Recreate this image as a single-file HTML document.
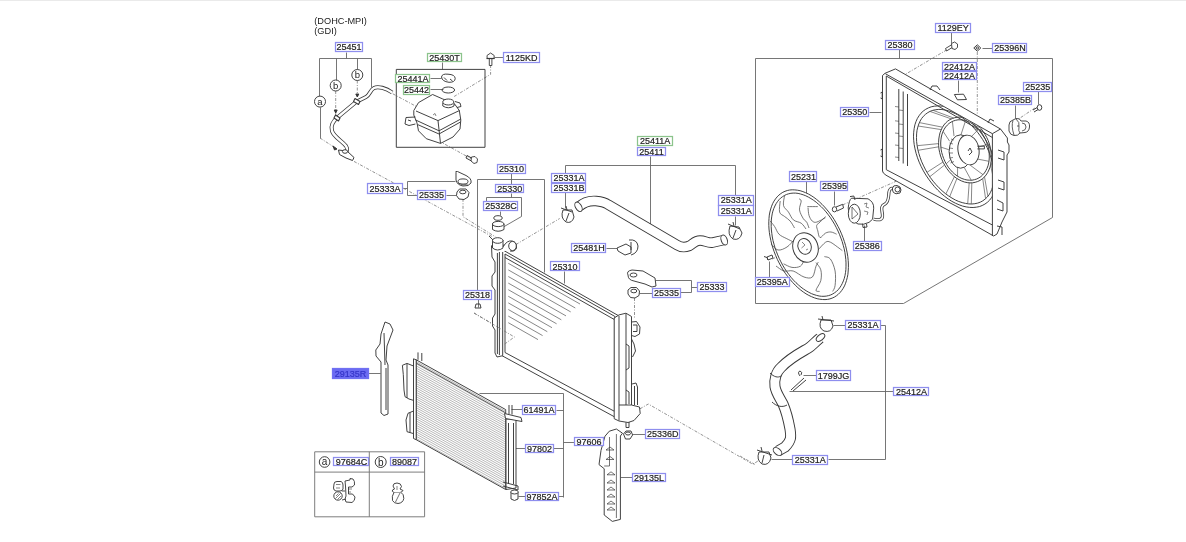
<!DOCTYPE html>
<html><head><meta charset="utf-8"><style>
html,body{margin:0;padding:0;background:#fff;width:1186px;height:542px;overflow:hidden}
svg{display:block;filter:blur(0.3px)}
</style></head><body>
<svg width="1186" height="542" viewBox="0 0 1186 542">
<rect x="0" y="0" width="1186" height="1" fill="#eaeaea"/>
<g stroke="#666" stroke-width="0.9" fill="none">
<polyline points="346.5,52.5 346.5,58.5"/>
<polyline points="319.5,58.5 371.5,58.5"/>
<polyline points="319.5,58.5 319.5,96.5"/>
<polyline points="336.5,58.5 336.5,80.5"/>
<polyline points="357.5,58.5 357.5,69.5"/>
<polyline points="371.5,58.5 371.5,87.5"/>
<polyline points="320.5,107.5 320.5,138.5"/>
<polyline points="442.5,62.5 442.5,69.5"/>
<polyline points="430.5,78.5 441.5,78.5"/>
<polyline points="430.5,89.5 443.5,89.5"/>
<polyline points="494.5,57.5 503.5,57.5"/>
<polyline points="403.5,188.5 407.5,188.5"/>
<polyline points="455.5,181.5 407.5,181.5 407.5,195.5 417.5,195.5"/>
<polyline points="446.5,195.5 457.5,195.5"/>
<polyline points="477.5,290.5 477.5,179.5 544.5,179.5 544.5,272.5"/>
<polyline points="511.5,173.5 511.5,184.5"/>
<polyline points="511.5,193.5 511.5,197.5"/>
<polyline points="486.5,201.5 486.5,197.5 521.5,197.5 521.5,216.5 502.5,227.5"/>
<polyline points="500.5,211.5 500.5,215.5"/>
<polyline points="650.5,156.5 650.5,224.5"/>
<polyline points="565.5,173.5 565.5,165.5 735.5,165.5 735.5,196.5"/>
<polyline points="565.5,192.5 565.5,208.5"/>
<polyline points="735.5,216.5 735.5,225.5"/>
<polyline points="606.5,248.5 617.5,248.5"/>
<polyline points="564.5,271.5 564.5,283.5"/>
<polyline points="478.5,299.5 478.5,307.5"/>
<polyline points="655.5,280.5 691.5,280.5 691.5,292.5 680.5,292.5"/>
<polyline points="691.5,287.5 697.5,287.5"/>
<polyline points="639.5,293.5 652.5,293.5"/>
<polyline points="951.5,32.5 951.5,43.5"/>
<polyline points="899.5,49.5 899.5,58.5"/>
<polyline points="755.5,58.5 1052.5,58.5 1052.5,217.5 903.5,303.5 755.5,303.5 755.5,58.5"/>
<polyline points="982.5,48.5 992.5,48.5"/>
<polyline points="958.5,80.5 958.5,92.5"/>
<polyline points="1038.5,91.5 1038.5,104.5"/>
<polyline points="1015.5,105.5 1015.5,118.5"/>
<polyline points="869.5,112.5 881.5,112.5"/>
<polyline points="806.5,181.5 806.5,194.5"/>
<polyline points="834.5,191.5 834.5,205.5"/>
<polyline points="864.5,225.5 864.5,241.5"/>
<polyline points="769.5,261.5 769.5,277.5"/>
<polyline points="833.5,325.5 845.5,325.5"/>
<polyline points="880.5,325.5 885.5,325.5 885.5,459.5 828.5,459.5"/>
<polyline points="771.5,459.5 792.5,459.5"/>
<polyline points="789.5,391.5 893.5,391.5"/>
<polyline points="803.5,375.5 816.5,375.5"/>
<polyline points="479.5,393.5 563.5,393.5 563.5,497.5"/>
<polyline points="556.5,410.5 563.5,410.5"/>
<polyline points="511.5,409.5 522.5,409.5"/>
<polyline points="553.5,448.5 563.5,448.5"/>
<polyline points="513.5,448.5 525.5,448.5"/>
<polyline points="558.5,496.5 563.5,496.5"/>
<polyline points="518.5,496.5 525.5,496.5"/>
<polyline points="563.5,442.5 574.5,442.5"/>
<polyline points="632.5,434.5 645.5,434.5"/>
<polyline points="620.5,477.5 632.5,477.5"/>
<polyline points="368.5,373.5 380.5,373.5"/>
</g>
<g stroke="#777" stroke-width="0.8" fill="none" stroke-dasharray="3,1.5,1,1.5">
<polyline points="320.0,138.0 337.0,149.0"/>
<polyline points="335.7,91.0 335.7,115.0"/>
<polyline points="357.3,80.5 357.3,97.0"/>
<polyline points="490.6,65.0 490.6,74.3 454.0,96.6"/>
<polyline points="392.8,93.8 434.0,116.0"/>
<polyline points="439.0,141.0 473.5,160.0"/>
<polyline points="354.0,161.4 493.0,237.0"/>
<polyline points="463.0,198.8 463.0,216.7 495.7,237.0"/>
<polyline points="516.0,244.5 559.7,218.5"/>
<polyline points="634.5,298.0 634.5,318.0"/>
<polyline points="946.7,49.9 905.9,74.0"/>
<polyline points="977.3,52.0 977.3,113.8"/>
<polyline points="1034.8,108.0 1018.0,119.4"/>
<polyline points="842.7,204.9 917.0,172.0"/>
<polyline points="772.4,259.0 796.0,247.3"/>
<polyline points="640.0,408.8 648.3,404.0 752.8,464.2 758.0,461.0"/>
<polyline points="474.0,313.0 514.6,337.0"/>
<polyline points="740.0,456.0 755.0,464.5"/>
</g>
<g stroke="#383838" stroke-width="0.95" fill="none" stroke-linejoin="round">
<!-- RADIATOR core -->
<path d="M502,249.5 L618.5,315.7 L618.5,419 L502,355.7 Z" fill="#fff"/>
<path d="M505,254 L614.8,316.4 M505,257.5 L614.8,319.8 M505,254 L505,352.5 L614.8,411.5 L614.8,316.4"/>
<g stroke="#555" stroke-width="0.7">
<path d="M508.3,263.3 L580.0,304.0 M508.3,269.9 L575.3,308.0 M508.3,276.5 L570.7,311.9 M508.3,283.1 L566.0,315.9 M508.3,289.7 L561.3,319.8 M508.3,296.3 L556.6,323.8 M508.3,302.9 L552.0,327.7 M508.3,309.5 L547.3,331.7 M508.3,316.1 L542.6,335.6 M508.3,322.7 L538.0,339.6"/>
</g>
<!-- left tank -->
<path d="M502.7,252 L502.7,355.7 L497,357 L495,353 L495,330 L492.5,326 L492.5,318 L495,314 L495,290 L492,286 L492,276 L495,272 L495,262 L492,257 L491.5,246 L494,243 L502,244 L508,249" fill="#fff"/>
<path d="M497.4,253 L497.4,354 M499.4,252 L499.4,355"/>
<!-- filler neck -->
<path d="M492.5,240 L492.5,248 Q497.5,252 503,248 L503,240" fill="#fff"/>
<ellipse cx="497.7" cy="240.5" rx="5.2" ry="2.8" fill="#fff"/>
<path d="M489,236 L493,240"/>
<!-- outlet pipe -->
<path d="M503,247 Q507,240 512,241 Q517,242 516.5,248 Q515,252 510,251" fill="#fff"/>
<ellipse cx="512.5" cy="246" rx="3.8" ry="4.6" fill="#fff"/>
<!-- right tank -->
<path d="M614.2,318 L619,314.9 L626,313.2 L631.5,316.5 L631.5,405 L639.5,407 L640.2,413.5 L634,420.5 L628,422.5 L619,421 L614.2,418.7 Z" fill="#fff"/>
<path d="M619,316 L619,420.5 M626,314 L626,405 M619,405 L631.5,405"/>
<path d="M631.5,322 L636.5,321.5 L640,327 L639.5,334 L635,336.5 L631.5,335.5 M633,325 L637,325 L637,331.5 L633,331.5 M631.5,339 L634,344 L635.5,351 L632.5,357 M626,344 L629,346 L629,368 L626,370"/>
<path d="M632,384 L636,383 L637.5,387 L637.5,405 M634.5,386 L634.5,405 M626,390 L629,392 L629,404"/>
<path d="M626,422.5 L626,427.5 L629,427.5 L629,422"/>
<!-- cap 25330 -->
<path d="M492.5,224 L492.5,229.5 Q498,233 504,229.5 L504,224" fill="#fff"/>
<ellipse cx="498.2" cy="224" rx="5.8" ry="2.6" fill="#fff"/>
<!-- o-ring 25328C -->
<ellipse cx="498" cy="218" rx="4.2" ry="2.3"/>
<!-- 25318 small part -->
<path d="M474,313 L514.4,337 L504.7,344" stroke="#777" stroke-width="0.8" stroke-dasharray="3,1.5,1,1.5"/>
<path d="M476,304 L480,304 L481,308 L475,308 Z"/>
</g>
<g stroke="#383838" stroke-width="0.95" fill="none" stroke-linejoin="round">
<!-- CONDENSER -->
<path d="M416.2,359.8 L505.7,409.6 L505.7,489.5 L416.2,439.7 Z" fill="#fff"/>
<g stroke="#8a8a8a" stroke-width="0.6">
<path d="M416.2,361.5 L505.7,411.3 M416.2,363.7 L505.7,413.5 M416.2,365.9 L505.7,415.7 M416.2,368.1 L505.7,417.9 M416.2,370.3 L505.7,420.1 M416.2,372.5 L505.7,422.3 M416.2,374.7 L505.7,424.5 M416.2,376.9 L505.7,426.7 M416.2,379.1 L505.7,428.9 M416.2,381.3 L505.7,431.1 M416.2,383.5 L505.7,433.3 M416.2,385.7 L505.7,435.5 M416.2,387.9 L505.7,437.7 M416.2,390.1 L505.7,439.9 M416.2,392.3 L505.7,442.1 M416.2,394.5 L505.7,444.3 M416.2,396.7 L505.7,446.5 M416.2,398.9 L505.7,448.7 M416.2,401.1 L505.7,450.9 M416.2,403.3 L505.7,453.1 M416.2,405.5 L505.7,455.3 M416.2,407.7 L505.7,457.5 M416.2,409.9 L505.7,459.7 M416.2,412.1 L505.7,461.9 M416.2,414.3 L505.7,464.1 M416.2,416.5 L505.7,466.3 M416.2,418.7 L505.7,468.5 M416.2,420.9 L505.7,470.7 M416.2,423.1 L505.7,472.9 M416.2,425.3 L505.7,475.1 M416.2,427.5 L505.7,477.3 M416.2,429.7 L505.7,479.5 M416.2,431.9 L505.7,481.7 M416.2,434.1 L505.7,483.9 M416.2,436.3 L505.7,486.1 M416.2,438.5 L505.7,488.3"/>
</g>
<path d="M416.2,363 L505.7,412.8" stroke-width="0.8"/>
<path d="M413.5,358.8 L416.2,359.8 L416.2,439.7 L413.5,438.5 Z M418,352.4 L418,359.8 M421.8,353 L421.8,361" fill="#fff"/>
<path d="M413.5,366 L407,363.4 L402.4,365.3 L403.3,374.5 L404,390 L405,396.7 L409,399 L413.5,400.4 M407,364 L407,398 M413.5,411 L408,413.3 L406,420 L407,431.7 L413.5,433.6 M410,412.5 L410,432.5"/>
<!-- receiver drier -->
<path d="M506,419 L516,419 L516,488 L506,489.5 Z" fill="#fff"/>
<path d="M508.5,423 L508.5,484 M513.5,423 L513.5,484"/>
<path d="M504.5,413.5 L521,417.5 L522,421.5 L505.5,418.5 Z" fill="#fff"/>
<path d="M509,405 L509,414 M512,405 L512,414.5"/>
<path d="M503,482 L518,486 L518,490 L503,486"/>
<!-- grommet 97852A -->
<path d="M511,492 L511,499 Q514.5,502 518,499 L518,492" fill="#fff"/>
<ellipse cx="514.5" cy="492" rx="3.8" ry="2" fill="#fff"/>
</g>
<g stroke="#383838" stroke-width="0.95" fill="none" stroke-linejoin="round">
<path d="M882.5,75.5 L885,73.3 L895.5,68.9 L1000.5,129 L1007.4,138 L1007.4,142 L1009,145 L1009,152 L1007,155 L1007,212 L1002,222 L997,234 L993.7,236 L886,175.2 Q882.5,173 882.5,171 Z" fill="#fff"/>
<path d="M885.5,73.8 L992.4,133.7 L992.4,236 M992.4,133.7 L1000.5,129"/>
<path d="M886.3,76 L886.3,169.7 L992.4,225 M886.3,76 L992.4,137.5"/>
<path d="M880.5,93 L882.2,92 L882.2,99 L880.5,98 M880.5,150 L882.2,149 L882.2,157 L880.5,156"/>
<path d="M898.8,89 L898.8,161 M903.2,91.5 L903.2,163.5 M907.5,94 L907.5,166"/>
<path stroke-width="0.6" d="M895,106.5 L899,107 M895,120.8 L899,121.3 M895,133 L899,133.5 M895,145 L899,145.5 M895,157 L899,157.5 M899,110 L903,110.5 M899,124 L903,124.5 M899,136 L903,136.5 M899,148 L903,148.5"/>
<path d="M930,90 L932,86 L937,86 L940,90 M988,123 L990,119 L994,121"/>
<clipPath id="shc"><path d="M860,60 L992.4,134 L992.4,238 L860,238 Z"/></clipPath>
<g clip-path="url(#shc)">
<polyline points="984.7,138.3 987.2,142.5 989.4,146.8 991.4,151.2 993.1,155.6 994.5,160.1 995.6,164.5 996.4,168.8 996.9,173.1 997.1,177.2 996.9,181.2 996.4,185.0 995.7,188.6 994.6,191.9 993.2,195.0 991.5,197.7 989.6,200.2 987.4,202.3 984.9,204.1 982.2,205.5 979.4,206.6 976.3,207.2 973.1,207.5 969.7,207.4 966.2,206.9 962.7,206.1 959.1,204.8 955.4,203.2 951.8,201.3 948.2,199.0 944.6,196.3 941.1,193.4 937.8,190.2 934.5,186.7 931.5,183.0 928.6,179.1 925.9,175.1 923.4,170.9 921.2,166.6 919.2,162.2 917.5,157.8 916.1,153.3 915.0,148.9 914.2,144.6 913.7,140.3 913.5,136.2 913.7,132.2 914.2,128.4 914.9,124.8 916.0,121.5 917.4,118.4 919.1,115.7 921.0,113.2 923.2,111.1 925.7,109.3 928.4,107.9 931.2,106.8 934.3,106.2 937.5,105.9 940.9,106.0 944.4,106.5 947.9,107.3 951.5,108.6 955.2,110.2 958.8,112.1 962.4,114.4 966.0,117.1 969.5,120.0 972.8,123.2 976.1,126.7 979.1,130.4 982.0,134.3 984.7,138.3"/>
<polyline points="982.7,139.6 985.0,143.5 987.0,147.5 988.9,151.6 990.4,155.7 991.7,159.8 992.8,163.9 993.5,168.0 994.0,171.9 994.1,175.8 994.0,179.5 993.6,183.0 992.8,186.3 991.8,189.4 990.5,192.3 989.0,194.9 987.2,197.1 985.1,199.1 982.8,200.8 980.4,202.1 977.7,203.1 974.8,203.7 971.8,204.0 968.7,203.9 965.5,203.4 962.2,202.6 958.8,201.5 955.4,200.0 952.0,198.1 948.7,196.0 945.4,193.6 942.1,190.8 939.0,187.8 936.0,184.6 933.1,181.2 930.4,177.6 927.9,173.8 925.6,169.9 923.6,165.9 921.7,161.8 920.2,157.7 918.9,153.6 917.8,149.5 917.1,145.4 916.6,141.5 916.5,137.6 916.6,133.9 917.0,130.4 917.8,127.1 918.8,124.0 920.1,121.1 921.6,118.5 923.4,116.3 925.5,114.3 927.8,112.6 930.2,111.3 932.9,110.3 935.8,109.7 938.8,109.4 941.9,109.5 945.1,110.0 948.4,110.8 951.8,111.9 955.2,113.4 958.6,115.3 961.9,117.4 965.2,119.8 968.5,122.6 971.6,125.6 974.6,128.8 977.5,132.2 980.2,135.8 982.7,139.6"/>
<polyline points="988.2,140.6 989.4,144.0 990.3,147.4 991.0,150.8 991.4,154.3 991.4,157.7 991.2,161.0 990.7,164.1 990.0,167.2 988.9,170.0 987.6,172.6 986.1,175.0 984.3,177.1 982.3,178.9 980.1,180.4 977.7,181.5 975.2,182.3 972.6,182.8 970.0,182.9 967.2,182.6 964.4,182.0 961.7,181.0 959.0,179.7 956.3,178.1 953.7,176.1 951.3,173.9 949.0,171.4 946.9,168.6 945.0,165.7 943.3,162.6 941.8,159.4 940.6,156.0 939.7,152.6 939.0,149.2 938.6,145.7 938.6,142.3 938.8,139.0 939.3,135.9 940.0,132.8 941.1,130.0 942.4,127.4 943.9,125.0 945.7,122.9 947.7,121.1 949.9,119.6 952.3,118.5 954.8,117.7 957.4,117.2 960.0,117.1 962.8,117.4 965.6,118.0 968.3,119.0 971.0,120.3 973.7,121.9 976.3,123.9 978.7,126.1 981.0,128.6 983.1,131.4 985.0,134.3 986.7,137.4 988.2,140.6"/>
<polyline points="986.3,141.4 987.4,144.5 988.3,147.6 988.9,150.8 989.2,153.9 989.3,157.0 989.1,160.1 988.7,163.0 988.0,165.8 987.0,168.4 985.8,170.8 984.4,173.0 982.7,174.9 980.9,176.6 978.9,177.9 976.7,179.0 974.4,179.7 972.0,180.2 969.6,180.2 967.0,180.0 964.5,179.4 961.9,178.5 959.4,177.3 957.0,175.8 954.6,174.0 952.4,172.0 950.3,169.7 948.3,167.2 946.6,164.5 945.0,161.6 943.7,158.6 942.6,155.5 941.7,152.4 941.1,149.2 940.8,146.1 940.7,143.0 940.9,139.9 941.3,137.0 942.0,134.2 943.0,131.6 944.2,129.2 945.6,127.0 947.3,125.1 949.1,123.4 951.1,122.1 953.3,121.0 955.6,120.3 958.0,119.8 960.4,119.8 963.0,120.0 965.5,120.6 968.1,121.5 970.6,122.7 973.0,124.2 975.4,126.0 977.6,128.0 979.7,130.3 981.7,132.8 983.4,135.5 985.0,138.4 986.3,141.4"/>
<path stroke-width="0.7" stroke="#555" d="M989.3,143.8 L988.0,149.6 M990.2,147.1 L989.9,154.3 M987.4,144.3 L971.8,149.1 M991.1,162.3 L994.1,176.0 M990.5,165.3 L993.9,180.2 M989.0,161.3 L973.0,158.2 M984.5,176.8 L987.9,196.3 M982.7,178.6 L985.6,198.7 M983.0,174.7 L970.2,165.2 M971.8,182.9 L971.3,204.0 M969.2,182.8 L967.7,203.8 M971.2,180.2 L964.5,168.0 M956.9,178.5 L949.7,196.7 M954.4,176.7 L945.9,193.9 M957.5,176.2 L957.6,165.6 M944.6,165.0 L929.8,176.7 M943.0,162.0 L927.0,172.3 M946.2,163.8 L951.8,158.7 M938.7,146.8 L918.0,150.3 M938.6,143.6 L917.1,145.7 M940.8,147.1 L948.8,149.7 M941.2,129.6 L918.1,126.0 M942.5,127.2 L919.4,122.6 M943.1,131.3 L949.6,141.2 M951.3,118.9 L929.9,111.4 M953.6,118.0 L933.0,110.3 M952.4,121.4 L954.0,136.1 M965.7,118.1 L949.9,111.2 M968.3,119.0 L953.7,112.8 M965.6,120.6 L960.6,135.9 M979.9,127.3 L971.5,125.5 M982.0,129.8 L975.0,129.2 M978.7,129.2 L967.2,140.8"/>
</g>
<ellipse cx="960.6" cy="151.5" rx="11.5" ry="16.7" fill="#fff"/>
<ellipse cx="968.5" cy="150" rx="10.5" ry="15" transform="rotate(-10 968.5 150)" fill="#fff"/>
<path stroke-width="0.6" d="M949.5,143 L953,144 M949.2,148 L953,148.5 M949.2,153 L953,153 M949.5,158 L953,157.5 M950.5,163 L954,161.5 M951,139 L954,140"/>
<path d="M968,151 L970,148 L972,152 L969,155 M977.4,146.2 L984.4,146.2 L984.4,148.9 L977.4,148.9"/>
<path d="M998,150 L1004,152 L1004,160 L998,158 M998,180 L1004,182 L1004,190 L998,188 M997,200 L1003,203 L1003,211 L997,209 M997,226 L1002,227 L1002,235"/>
<path d="M954.4,94.5 L963.5,94.2 L966.5,99.5 L957.4,99.8 Z"/>
<polyline points="839.9,230.1 841.5,233.8 843.0,237.6 844.3,241.4 845.5,245.3 846.4,249.1 847.2,252.9 847.8,256.7 848.2,260.4 848.4,264.0 848.4,267.6 848.2,271.0 847.9,274.3 847.3,277.4 846.5,280.4 845.6,283.2 844.5,285.9 843.2,288.3 841.7,290.5 840.1,292.5 838.3,294.3 836.4,295.8 834.4,297.1 832.2,298.1 829.9,298.9 827.5,299.4 825.0,299.6 822.4,299.5 819.8,299.2 817.1,298.7 814.3,297.8 811.6,296.7 808.8,295.4 806.0,293.8 803.3,292.0 800.5,289.9 797.8,287.6 795.2,285.1 792.6,282.4 790.1,279.5 787.7,276.5 785.3,273.3 783.1,270.0 781.1,266.5 779.1,262.9 777.3,259.3 775.7,255.6 774.2,251.8 772.9,248.0 771.7,244.1 770.8,240.3 770.0,236.5 769.4,232.7 769.0,229.0 768.8,225.4 768.8,221.8 769.0,218.4 769.3,215.1 769.9,212.0 770.7,209.0 771.6,206.2 772.7,203.5 774.0,201.1 775.5,198.9 777.1,196.9 778.9,195.1 780.8,193.6 782.8,192.3 785.0,191.3 787.3,190.5 789.7,190.0 792.2,189.8 794.8,189.9 797.4,190.2 800.1,190.7 802.9,191.6 805.6,192.7 808.4,194.0 811.2,195.6 813.9,197.4 816.7,199.5 819.4,201.8 822.0,204.3 824.6,207.0 827.1,209.9 829.5,212.9 831.9,216.1 834.1,219.4 836.1,222.9 838.1,226.5 839.9,230.1" fill="#fff"/>
<polyline points="838.0,231.0 839.5,234.5 840.9,238.1 842.2,241.6 843.2,245.2 844.2,248.8 844.9,252.4 845.4,256.0 845.8,259.4 846.0,262.9 846.0,266.2 845.9,269.4 845.5,272.5 845.0,275.5 844.3,278.3 843.4,280.9 842.3,283.4 841.1,285.7 839.7,287.8 838.2,289.7 836.6,291.3 834.7,292.7 832.8,293.9 830.8,294.9 828.6,295.6 826.3,296.1 824.0,296.3 821.6,296.3 819.1,296.0 816.6,295.4 814.0,294.6 811.4,293.6 808.8,292.3 806.2,290.8 803.6,289.1 801.0,287.2 798.5,285.0 796.0,282.7 793.5,280.2 791.2,277.5 788.9,274.6 786.7,271.6 784.7,268.5 782.7,265.2 780.9,261.8 779.2,258.4 777.7,254.9 776.3,251.3 775.0,247.8 774.0,244.2 773.0,240.6 772.3,237.0 771.8,233.4 771.4,230.0 771.2,226.5 771.2,223.2 771.3,220.0 771.7,216.9 772.2,213.9 772.9,211.1 773.8,208.5 774.9,206.0 776.1,203.7 777.5,201.6 779.0,199.7 780.6,198.1 782.5,196.7 784.4,195.5 786.4,194.5 788.6,193.8 790.9,193.3 793.2,193.1 795.6,193.1 798.1,193.4 800.6,194.0 803.2,194.8 805.8,195.8 808.4,197.1 811.0,198.6 813.6,200.3 816.2,202.2 818.7,204.4 821.2,206.7 823.7,209.2 826.0,211.9 828.3,214.8 830.5,217.8 832.5,220.9 834.5,224.2 836.3,227.6 838.0,231.0" fill="none"/>
<path stroke="#4a4a4a" stroke-width="0.75" d="M780.2,201.0 C780.1,202.8 778.9,209.5 779.6,212.1 C780.3,214.7 782.9,215.0 784.6,216.5 C786.4,218.0 788.5,219.1 790.1,221.0 C791.8,222.9 793.8,226.8 794.5,228.0 M784.6,195.5 C784.4,197.2 782.9,202.7 783.5,205.5 C784.1,208.3 786.9,209.7 788.5,212.1 C790.1,214.5 791.3,218.1 793.4,219.9 C795.5,221.8 799.1,221.7 801.2,223.2 C803.3,224.7 805.2,228.0 806.0,229.0 M799.0,198.8 C799.4,199.2 801.1,199.2 801.2,201.0 C801.3,202.8 799.1,206.9 799.5,209.9 C799.9,212.9 802.2,216.8 803.4,218.8 C804.6,220.8 805.8,220.6 806.7,222.1 C807.6,223.6 808.6,227.0 809.0,228.0 M807.3,206.6 C809.0,206.6 816.0,206.6 817.8,206.6 M808.0,207.7 C808.2,209.0 808.3,213.2 809.0,215.4 C809.7,217.6 810.9,219.9 812.2,221.0 C813.5,222.1 814.5,222.7 816.7,222.1 C818.9,221.5 824.0,218.4 825.5,217.7 M825.5,216.5 C824.6,217.4 821.5,220.6 820.0,222.1 C818.5,223.6 817.1,223.9 816.7,225.4 C816.3,226.9 817.2,228.9 817.8,230.9 C818.3,232.9 818.7,237.2 820.0,237.6 C821.3,238.0 823.7,234.0 825.5,233.1 C827.3,232.2 829.1,231.8 831.0,232.0 C832.9,232.2 835.7,233.8 836.6,234.2 M770.2,221.0 C770.9,221.9 773.1,224.3 774.6,226.5 C776.1,228.7 777.0,232.2 779.0,234.2 C781.0,236.2 784.3,237.4 786.8,238.7 C789.3,240.0 792.6,241.6 793.8,242.2 M783.6,263.8 C785.0,264.4 789.2,267.0 792.0,267.4 C794.8,267.8 798.4,267.4 800.4,266.2 C802.4,265.0 803.4,261.2 804.0,260.2 M776.0,266.0 C777.3,266.8 781.1,270.2 784.0,271.0 C786.9,271.8 789.9,270.0 793.2,271.0 C796.5,272.0 800.8,276.0 804.0,277.0 C807.2,278.0 810.4,278.8 812.4,277.0 C814.4,275.2 815.0,268.7 816.0,266.2 C817.0,263.7 818.0,262.7 818.4,262.0 M816.0,262.6 C816.8,263.8 820.0,266.8 820.8,269.8 C821.6,272.8 821.6,277.2 820.8,280.6 C820.0,284.0 816.2,288.4 816.0,290.2 C815.8,292.0 819.0,291.2 819.6,291.4 M824.4,256.6 C825.4,257.0 828.6,256.6 830.4,259.0 C832.2,261.4 834.3,266.6 835.1,271.0 C835.9,275.4 835.5,282.0 835.1,285.4 C834.7,288.8 833.1,290.4 832.7,291.4 M818.0,250.0 C819.3,248.7 823.5,243.5 825.6,242.2 C827.7,240.9 828.4,241.4 830.4,242.2 C832.4,243.0 835.5,245.6 837.5,247.0 C839.5,248.4 841.5,250.0 842.3,250.6 M794.0,240.0 C792.8,241.2 789.7,245.3 787.0,247.0 C784.3,248.7 780.7,250.5 778.0,250.0 C775.3,249.5 772.2,245.0 771.0,244.0"/>
<ellipse cx="805.5" cy="247.5" rx="12.5" ry="15" transform="rotate(-20 805.5 247.5)" fill="#fff"/>
<ellipse cx="804.6" cy="246.4" rx="6.6" ry="8" transform="rotate(-20 804.6 246.4)"/>
<path d="M802,242 L805,245 L801.5,248 M806,250 L808,249" stroke-width="0.6"/>
<path d="M851.5,198.2 L868,198.8 Q874,202 873.7,208.2 L872.6,219.2 Q870,223 863.7,224.2 L858,224 Q849,220 848.2,208 Q849,200 851.5,198.2 Z" fill="#fff"/>
<ellipse cx="854.3" cy="213.7" rx="6" ry="9.5" fill="#fff"/>
<path d="M852,207 L858,214 L852,219 Z" stroke-width="0.7"/>
<path d="M850,196.6 L853.8,196 L855,200 M862.6,223.7 L863,227.5 L867,227 L866.5,224"/>
<path d="M864,204 L867,203 L866,207 L869,208 M864,211 L868,212 L867,215" stroke-width="0.6"/>
<path d="M873.7,219.2 C878,220 883,221 882.5,215 C882,210 880,206 885,204 C889,202 888.5,196 889,192 C889.5,189 891,188 893,188.5" stroke-width="3.2"/>
<path d="M873.7,219.2 C878,220 883,221 882.5,215 C882,210 880,206 885,204 C889,202 888.5,196 889,192 C889.5,189 891,188 893,188.5" stroke="#fff" stroke-width="1.6"/>
<path d="M892.5,188 Q893,185 897,185.5 L900,187 Q902,190 900,193 L896,193.8 Q892.5,193 892.5,190 Z" fill="#fff"/>
<ellipse cx="897.5" cy="189.5" rx="2.5" ry="2.5"/>
<path d="M836,207 L842.7,204.3 M837,211 L843.5,208" /><path d="M842.7,204.3 L843.5,208"/>
<ellipse cx="834.5" cy="209.3" rx="2.2" ry="2.6" fill="#fff"/>
<path d="M767,257 L772,255 L773,258 L768,260 Z M764,256.5 L767,257.5 L768,260" fill="#fff"/>
<path d="M945.5,48.5 L952,44.5 M946.5,51 L953,47 M945.5,48.5 L946.5,51" stroke-width="0.9"/>
<path d="M951.5,43.5 L954.5,42 L957.5,44 L957.5,47.5 L955,49.5 L952,48.5 Z" fill="#fff" stroke-width="0.9"/>
<path d="M973.8,48 L977.3,44.8 L980.8,48 L977.3,51.2 Z" fill="#fff"/><circle cx="977.3" cy="48" r="1.2"/>
<path d="M1033,110 L1038,107 M1034,112 L1039,109"/>
<ellipse cx="1039.5" cy="107.5" rx="2.3" ry="2.8" fill="#fff"/>
<path d="M1009,125 Q1009,121 1013,120 L1016,118.5 Q1020,118 1021,121 L1026,121 Q1030,122 1029.5,127 Q1029,132 1025,132.5 L1020,133 Q1018,136 1014,135.5 Q1010,135 1009,131 Z" fill="#fff" stroke-width="0.9"/>
<path d="M1013,120.5 Q1011,126 1014,135 M1016,119 Q1020,122 1019,127 Q1018,131 1020,133 M1022,123 Q1026,123 1026,127 Q1026,130.5 1022,131 M1017,126 L1019,126" stroke-width="0.8"/>
</g><g stroke="#383838" stroke-width="0.95" fill="none" stroke-linejoin="round">
<!-- upper hose 25411 -->
<path id="h1" d="M579,206.7 C584,202 590,200.5 596,201 C601,201.5 605,202.5 608,204.5 L677,245 C681,247.5 685,247.5 689,246 C693,244 695,240.5 700,240.5 C705,240.5 707,243 712,242.7 L724,240" stroke-width="10.5"/>
<path d="M579,206.7 C584,202 590,200.5 596,201 C601,201.5 605,202.5 608,204.5 L677,245 C681,247.5 685,247.5 689,246 C693,244 695,240.5 700,240.5 C705,240.5 707,243 712,242.7 L724,240" stroke="#fff" stroke-width="8.7"/>
<ellipse cx="578.5" cy="206.8" rx="3" ry="5.2" transform="rotate(-30 578.5 206.8)" fill="#fff"/>
<ellipse cx="724.2" cy="240" rx="3" ry="5.2" transform="rotate(-20 724.2 240)" fill="#fff"/>
<!-- lower hose 25412A -->
<path d="M820,338 C814,343 812,346 808,348.4 C800,353 790,358 781,367.5 C776,372 774,380 775,386.6 C776,393 780,398 783,404 C786,411 788,418 790,429 C791,436 792,440 785,447 L778,451" stroke-width="11"/>
<path d="M820,338 C814,343 812,346 808,348.4 C800,353 790,358 781,367.5 C776,372 774,380 775,386.6 C776,393 780,398 783,404 C786,411 788,418 790,429 C791,436 792,440 785,447 L778,451" stroke="#fff" stroke-width="9.1"/>
<ellipse cx="820.5" cy="337.5" rx="5" ry="2.8" transform="rotate(-40 820.5 337.5)" fill="#fff"/>
<ellipse cx="777.5" cy="451.5" rx="3" ry="5" transform="rotate(-50 777.5 451.5)" fill="#fff"/>
<path d="M770,373 C774,377 778,378 781,376 M772,402 C776,406 782,408 787,405"/>
<!-- clamps -->
<g fill="#fff">
<path d="M563,210 Q560,218 566,222 Q572,224 574,217 L572,210 Z"/>
<path d="M561,208 L572,212 M566,206 L567,210 M569,213 L566,221"/>
<path d="M730,226 Q727,235 733,239 Q740,241 742,233 L739,227 Z"/>
<path d="M728,224 L740,229 M733,222 L734,226 M736,230 L733,238"/>
<path d="M821,320 Q818,328 824,331 Q831,333 833,326 L831,320 Z"/>
<path d="M818,319 L834,321 M822,316 L823,320"/>
<path d="M759,452 Q756,460 762,464 Q769,466 771,458 L769,452 Z"/>
<path d="M757,450 L772,455 M761,447 L762,451 M764,455 L762,463"/>
</g>
<!-- 1799JG -->
<path d="M791,390 L804,378 M793,391 L806,380"/>
<path d="M800,376 Q797,372 800,371 Q803,372 801,375"/>
<!-- 25481H bracket -->
<path d="M617,248 L626,244 L631,247 L631,253 L625,255 L618,251 Z" fill="#fff"/>
<path d="M629,240 Q637,239 638,246 Q638,253 631,255 M631,242 L631,250"/>
<!-- 25333 bracket right -->
<path d="M628,275 Q626,271 632,270 L643,271 L655,278 L656,286 L652,287 L645,284 L634,281 Q628,280 628,275 Z" fill="#fff"/>
<ellipse cx="633.5" cy="275" rx="3.5" ry="2"/>
<path d="M628,290 L631,287.5 L636.5,287.5 L639.5,291 L639,295.5 L635,298 L630.5,297.5 L628,294 Z" fill="#fff"/>
<ellipse cx="633.8" cy="291" rx="3" ry="1.8"/>
<!-- 25336D grommet -->
<path d="M623.5,434 L626,431 L631,431 L632.6,435 L630,439 L625.5,439 Z" fill="#fff"/>
<ellipse cx="628" cy="433.5" rx="2.5" ry="1.5"/>
</g>
<g stroke="#383838" stroke-width="0.95" fill="none" stroke-linejoin="round">
<!-- circles -->
<circle cx="320" cy="101.6" r="5.5" fill="#fff"/>
<circle cx="335.7" cy="85.5" r="5.5" fill="#fff"/>
<circle cx="357.3" cy="75" r="5.5" fill="#fff"/>
<path d="M335.7,113 L334.2,110 L337.2,110 Z M357.3,97 L355.8,94 L358.8,94 Z M337,149 L333,146 L334.5,150 Z" fill="#333"/>
<!-- hose 25451 -->
<path d="M392.2,92.5 C386,88 378,86 374,88 C370,90 370,95 366,97 C362,99 360,100 356,102 L338,117 C333,121 330,125 332,131 C334,137 342,141 346,146 C348,149 347,152 345,152" stroke-width="4"/>
<path d="M392.2,92.5 C386,88 378,86 374,88 C370,90 370,95 366,97 C362,99 360,100 356,102 L338,117 C333,121 330,125 332,131 C334,137 342,141 346,146 C348,149 347,152 345,152" stroke="#fff" stroke-width="2.4"/>
<path d="M355,98.5 L360,101.5 L358.5,104.5 L353.5,101.5 Z M335.5,115 L340,118 L338.5,121 L334,118 Z" fill="#fff" stroke-width="1.1"/>
<path d="M338.5,150 L347,151 L354,157.5 L352.5,160.5 L346,158 L339.5,154.5 Z" fill="#fff" stroke-width="1"/>
<ellipse cx="345" cy="151.5" rx="2.6" ry="1.8" fill="#fff"/>
<!-- TANK box -->
<rect x="396.3" y="69.4" width="88.7" height="77.9" />
<!-- cap -->
<path d="M441.5,77 Q442,73.5 448,74.2 Q455,74.5 455.2,78.5 Q455,82.5 449,82.3 Q442,81.5 441.5,77 Z" fill="#fff"/>
<path d="M444,77.5 L447,80.5 M450,79 L452.5,81"/>
<!-- o-ring -->
<ellipse cx="448.3" cy="90" rx="6.3" ry="3"/>
<!-- reservoir -->
<path d="M413.8,110.5 L418.5,102.6 L432.6,94.5 L442.8,99 L454.6,104 L459.3,110.5 L460.8,120 L460,129 L453,137 L440.5,143.4 L426.3,138.7 L418.5,130.8 L417,123 L413.8,115 Z" fill="#fff"/>
<path d="M416,111 L438,120.6 L459.5,110.5 M415.4,119.9 L439,130.8 L460.8,119 M417.7,124.6 L439,134 L460.5,122 M438,120.6 L440.5,143.4"/>
<path d="M415.4,117 L406,117.5 L405,124 L409,125.5 L415.4,124 M408,120 L411,121"/>
<path d="M442.8,103 L442.8,106 Q448.3,109.5 454,106 L454,103" fill="#fff"/>
<ellipse cx="448.3" cy="102" rx="5.6" ry="3" fill="#fff"/>
<path d="M455,101.5 L460,103 L461,106.5 L457,107.5"/>
<path d="M433,115 L435,113.5 L436,116" stroke-width="0.6"/>
<!-- bolt under tank -->
<path d="M467,155.5 L472.5,158.5 M466,158 L471.5,161 M467,155.5 L466,158" stroke-width="1"/>
<path d="M471.5,157 L475,156.5 L477.5,159 L477,162.5 L474,163.5 L471,161 Z" fill="#fff" stroke-width="0.9"/>
<!-- bolt 1125KD -->
<path d="M489.3,58.5 L489.3,65.5 M491.9,58.5 L491.9,65.5 M489.3,65.5 L491.9,65.5" stroke-width="0.9"/>
<path d="M487,55.5 L490.6,53 L494.2,55.5 L494,58.5 L487.2,58.5 Z" fill="#fff" stroke-width="0.9"/>
<path d="M486.5,58.5 L494.7,58.5" stroke-width="1.2"/>
<!-- 25333A bracket -->
<path d="M456,172.5 Q455,171 457.5,171.5 L466,175.5 Q472,178.5 471,183 Q469,186.5 463,186 Q457,185 456,180 Z" fill="#fff"/>
<ellipse cx="463" cy="181.5" rx="5" ry="2.6"/>
<path d="M458,183 Q463,186.5 468,184" stroke-width="0.6"/>
<path d="M457,192 L459.5,189 L466,189 L469,192.5 L468,197 L464,199.5 L459,199 L456.5,195.5 Z" fill="#fff"/>
<ellipse cx="462.8" cy="192" rx="3.2" ry="1.8"/>
<!-- 29135R -->
<path d="M385,322 L390,324 L393,330 L390,338 L387,346 L386,360 L388,365 L388,414 L384,415.5 L381,413 L381,362 L376,356 L375.8,350 L380,344 L381,334 Z" fill="#fff"/>
<path d="M384,333 L385,365 M386,368 L386,410"/>
<!-- 29135L -->
<path d="M609.3,431.2 L616.4,429 L622.5,433.2 L620.4,436 L620.4,519.4 L612.3,521.4 L604.2,515 L604.2,468.7 L599,464.6 L601,450.4 L605,436.2 Z" fill="#fff"/>
<path d="M616.4,434 L616.4,518 M609.5,437 L609.5,466 M604.2,466 L609.5,466" stroke-width="0.7"/>
<path stroke-width="0.7" d="M606,450 L610,447 L614,450 Z M606,459.5 L610,456.5 L614,459.5 Z M607,474.8 L611,471.8 L615,474.8 Z M607,483 L611,480 L615,483 Z M607,490 L611,487 L615,490 Z M607,497 L611,494 L615,497 Z M607,504 L611,501 L615,504 Z M607,510 L611,507 L615,510 Z"/>
<!-- LEGEND -->
<g stroke="#777">
<rect x="314.7" y="451.8" width="109.9" height="65"/>
<path d="M369.3,451.8 L369.3,516.8 M314.7,472.1 L424.6,472.1"/>
</g>
<circle cx="324.6" cy="462" r="5.3" fill="#fff"/>
<circle cx="380.7" cy="462" r="5.5" fill="#fff"/>
<!-- clip a -->
<g stroke="#333" stroke-width="0.9">
<path d="M334,484 Q334,481.5 337,481.5 L341,481.5 Q343,482 343,485 L343,489 Q342.5,491 340,491 L336,491 Q333.5,490.5 333.5,488 Z" fill="#fff"/>
<path d="M336,484.5 L340.5,484.5 M336,488 L340,488" stroke-width="0.6"/>
<path d="M345,481 L350,480 L350,478.5 L353,479 Q355,481 354.5,485 L352,487 L348.5,487 L348.5,494 L352.5,494 L355,497 Q355,501 352,502.5 L346,502 L345,499 L346,496 L345.5,486 Z" fill="#fff"/>
<path d="M348.5,489 L352,489 M348.5,492 L351,492" stroke-width="0.6"/>
<circle cx="338" cy="496" r="4.2" fill="#fff"/>
<path d="M335.5,498.5 L340.5,493.5 M336,496 L338.5,493.5 M337.5,499.5 L341,496" stroke-width="0.6"/>
<path d="M342,491 L345,491 M342,500 L346,499"/>
</g>
<!-- clip b -->
<g stroke="#333" stroke-width="0.9">
<path d="M393,486 Q393,483 397,483 Q401,483 401.5,486.5 L400,489 L403,490.5 Q402.5,492 400,492.5 L394,492.5 Q391.5,491.5 392.5,490 L394.5,489 Z" fill="#fff"/>
<path d="M394,492.5 Q391.5,496 392.5,500.5 Q394,503.5 398,503.5 Q403,503 403.8,498.5 Q404,494 401,492.5" fill="#fff"/>
<path d="M395.5,502 L400,493" stroke-width="0.7"/>
<path d="M397,486 L397,490" stroke-width="0.6"/>
</g>
</g>
<g font-family="Liberation Sans, sans-serif" font-size="9.5px" fill="#222" text-anchor="middle">
<text x="320" y="104.8">a</text><text x="335.7" y="88.9">b</text><text x="357.3" y="78.4">b</text>
<text x="324.6" y="465.4" font-size="10px">a</text><text x="380.7" y="465.6" font-size="10px">b</text>
</g>

<g font-family="Liberation Sans, sans-serif" font-size="9px">
<rect x="335.5" y="42.5" width="27.0" height="9.0" fill="#fff" stroke="#8e8eee" stroke-width="1.25"/><text x="349.0" y="50.2" fill="#222" stroke="#222" stroke-width="0.2" text-anchor="middle">25451</text>
<rect x="427.5" y="53.5" width="34.0" height="8.0" fill="#fff" stroke="#8cc48c" stroke-width="1.25"/><text x="444.5" y="60.6" fill="#222" stroke="#222" stroke-width="0.2" text-anchor="middle">25430T</text>
<rect x="395.5" y="74.5" width="34.0" height="8.0" fill="#fff" stroke="#8cc48c" stroke-width="1.25"/><text x="412.9" y="81.7" fill="#222" stroke="#222" stroke-width="0.2" text-anchor="middle">25441A</text>
<rect x="403.5" y="85.5" width="26.0" height="9.0" fill="#fff" stroke="#8cc48c" stroke-width="1.25"/><text x="416.5" y="93.1" fill="#222" stroke="#222" stroke-width="0.2" text-anchor="middle">25442</text>
<rect x="503.5" y="52.5" width="36.0" height="10.0" fill="#fff" stroke="#8e8eee" stroke-width="1.25"/><text x="521.7" y="60.7" fill="#222" stroke="#222" stroke-width="0.2" text-anchor="middle">1125KD</text>
<rect x="367.5" y="183.5" width="35.0" height="10.0" fill="#fff" stroke="#8e8eee" stroke-width="1.25"/><text x="385.1" y="191.7" fill="#222" stroke="#222" stroke-width="0.2" text-anchor="middle">25333A</text>
<rect x="417.5" y="190.5" width="28.0" height="9.0" fill="#fff" stroke="#8e8eee" stroke-width="1.25"/><text x="431.6" y="198.4" fill="#222" stroke="#222" stroke-width="0.2" text-anchor="middle">25335</text>
<rect x="497.5" y="164.5" width="28.0" height="9.0" fill="#fff" stroke="#8e8eee" stroke-width="1.25"/><text x="511.6" y="172.2" fill="#222" stroke="#222" stroke-width="0.2" text-anchor="middle">25310</text>
<rect x="495.5" y="184.5" width="28.0" height="8.0" fill="#fff" stroke="#8e8eee" stroke-width="1.25"/><text x="509.7" y="191.7" fill="#222" stroke="#222" stroke-width="0.2" text-anchor="middle">25330</text>
<rect x="483.5" y="201.5" width="34.0" height="9.0" fill="#fff" stroke="#8e8eee" stroke-width="1.25"/><text x="500.9" y="209.3" fill="#222" stroke="#222" stroke-width="0.2" text-anchor="middle">25328C</text>
<rect x="637.5" y="136.5" width="35.0" height="9.0" fill="#fff" stroke="#8cc48c" stroke-width="1.25"/><text x="655.2" y="144.3" fill="#222" stroke="#222" stroke-width="0.2" text-anchor="middle">25411A</text>
<rect x="637.5" y="147.5" width="28.0" height="8.0" fill="#fff" stroke="#8e8eee" stroke-width="1.25"/><text x="651.5" y="154.7" fill="#222" stroke="#222" stroke-width="0.2" text-anchor="middle">25411</text>
<rect x="551.5" y="173.5" width="34.0" height="9.0" fill="#fff" stroke="#8e8eee" stroke-width="1.25"/><text x="569.0" y="180.9" fill="#222" stroke="#222" stroke-width="0.2" text-anchor="middle">25331A</text>
<rect x="551.5" y="183.5" width="34.0" height="9.0" fill="#fff" stroke="#8e8eee" stroke-width="1.25"/><text x="569.0" y="190.8" fill="#222" stroke="#222" stroke-width="0.2" text-anchor="middle">25331B</text>
<rect x="718.5" y="195.5" width="35.0" height="10.0" fill="#fff" stroke="#8e8eee" stroke-width="1.25"/><text x="736.2" y="203.4" fill="#222" stroke="#222" stroke-width="0.2" text-anchor="middle">25331A</text>
<rect x="718.5" y="205.5" width="35.0" height="10.0" fill="#fff" stroke="#8e8eee" stroke-width="1.25"/><text x="736.2" y="213.9" fill="#222" stroke="#222" stroke-width="0.2" text-anchor="middle">25331A</text>
<rect x="571.5" y="243.5" width="34.0" height="9.0" fill="#fff" stroke="#8e8eee" stroke-width="1.25"/><text x="588.9" y="251.4" fill="#222" stroke="#222" stroke-width="0.2" text-anchor="middle">25481H</text>
<rect x="550.5" y="261.5" width="29.0" height="9.0" fill="#fff" stroke="#8e8eee" stroke-width="1.25"/><text x="565.0" y="269.5" fill="#222" stroke="#222" stroke-width="0.2" text-anchor="middle">25310</text>
<rect x="463.5" y="290.5" width="28.0" height="9.0" fill="#fff" stroke="#8e8eee" stroke-width="1.25"/><text x="477.6" y="298.0" fill="#222" stroke="#222" stroke-width="0.2" text-anchor="middle">25318</text>
<rect x="697.5" y="282.5" width="29.0" height="9.0" fill="#fff" stroke="#8e8eee" stroke-width="1.25"/><text x="712.1" y="289.9" fill="#222" stroke="#222" stroke-width="0.2" text-anchor="middle">25333</text>
<rect x="652.5" y="288.5" width="28.0" height="9.0" fill="#fff" stroke="#8e8eee" stroke-width="1.25"/><text x="666.5" y="296.1" fill="#222" stroke="#222" stroke-width="0.2" text-anchor="middle">25335</text>
<rect x="935.5" y="23.5" width="35.0" height="9.0" fill="#fff" stroke="#8e8eee" stroke-width="1.25"/><text x="953.1" y="30.9" fill="#222" stroke="#222" stroke-width="0.2" text-anchor="middle">1129EY</text>
<rect x="885.5" y="40.5" width="29.0" height="9.0" fill="#fff" stroke="#8e8eee" stroke-width="1.25"/><text x="900.0" y="48.2" fill="#222" stroke="#222" stroke-width="0.2" text-anchor="middle">25380</text>
<rect x="992.5" y="43.5" width="34.0" height="9.0" fill="#fff" stroke="#8e8eee" stroke-width="1.25"/><text x="1010.0" y="51.0" fill="#222" stroke="#222" stroke-width="0.2" text-anchor="middle">25396N</text>
<rect x="942.5" y="62.5" width="34.0" height="8.0" fill="#fff" stroke="#8e8eee" stroke-width="1.25"/><text x="959.6" y="69.5" fill="#222" stroke="#222" stroke-width="0.2" text-anchor="middle">22412A</text>
<rect x="942.5" y="71.5" width="34.0" height="8.0" fill="#fff" stroke="#8e8eee" stroke-width="1.25"/><text x="959.6" y="78.5" fill="#222" stroke="#222" stroke-width="0.2" text-anchor="middle">22412A</text>
<rect x="1023.5" y="82.5" width="28.0" height="9.0" fill="#fff" stroke="#8e8eee" stroke-width="1.25"/><text x="1037.8" y="90.0" fill="#222" stroke="#222" stroke-width="0.2" text-anchor="middle">25235</text>
<rect x="998.5" y="95.5" width="33.0" height="9.0" fill="#fff" stroke="#8e8eee" stroke-width="1.25"/><text x="1015.4" y="103.3" fill="#222" stroke="#222" stroke-width="0.2" text-anchor="middle">25385B</text>
<rect x="840.5" y="107.5" width="28.0" height="9.0" fill="#fff" stroke="#8e8eee" stroke-width="1.25"/><text x="854.8" y="114.9" fill="#222" stroke="#222" stroke-width="0.2" text-anchor="middle">25350</text>
<rect x="789.5" y="171.5" width="27.0" height="10.0" fill="#fff" stroke="#8e8eee" stroke-width="1.25"/><text x="803.5" y="179.6" fill="#222" stroke="#222" stroke-width="0.2" text-anchor="middle">25231</text>
<rect x="820.5" y="181.5" width="27.0" height="9.0" fill="#fff" stroke="#8e8eee" stroke-width="1.25"/><text x="834.5" y="189.4" fill="#222" stroke="#222" stroke-width="0.2" text-anchor="middle">25395</text>
<rect x="853.5" y="241.5" width="28.0" height="9.0" fill="#fff" stroke="#8e8eee" stroke-width="1.25"/><text x="867.3" y="249.1" fill="#222" stroke="#222" stroke-width="0.2" text-anchor="middle">25386</text>
<rect x="755.5" y="277.5" width="34.0" height="9.0" fill="#fff" stroke="#8e8eee" stroke-width="1.25"/><text x="772.3" y="284.9" fill="#222" stroke="#222" stroke-width="0.2" text-anchor="middle">25395A</text>
<rect x="845.5" y="320.5" width="35.0" height="9.0" fill="#fff" stroke="#8e8eee" stroke-width="1.25"/><text x="862.9" y="328.2" fill="#222" stroke="#222" stroke-width="0.2" text-anchor="middle">25331A</text>
<rect x="816.5" y="370.5" width="34.0" height="10.0" fill="#fff" stroke="#8e8eee" stroke-width="1.25"/><text x="833.5" y="378.8" fill="#222" stroke="#222" stroke-width="0.2" text-anchor="middle">1799JG</text>
<rect x="893.5" y="387.5" width="35.0" height="8.0" fill="#fff" stroke="#8e8eee" stroke-width="1.25"/><text x="911.5" y="394.6" fill="#222" stroke="#222" stroke-width="0.2" text-anchor="middle">25412A</text>
<rect x="792.5" y="455.5" width="35.0" height="9.0" fill="#fff" stroke="#8e8eee" stroke-width="1.25"/><text x="810.2" y="463.2" fill="#222" stroke="#222" stroke-width="0.2" text-anchor="middle">25331A</text>
<rect x="332.5" y="368.5" width="36.0" height="10.0" fill="#6b6bf2" stroke="#7070f2" stroke-width="1.25"/><text x="350.4" y="376.9" fill="#3434c8" stroke="#3434c8" stroke-width="0.2" text-anchor="middle">29135R</text>
<rect x="522.5" y="405.5" width="33.0" height="9.0" fill="#fff" stroke="#8e8eee" stroke-width="1.25"/><text x="539.1" y="413.3" fill="#222" stroke="#222" stroke-width="0.2" text-anchor="middle">61491A</text>
<rect x="525.5" y="444.5" width="28.0" height="8.0" fill="#fff" stroke="#8e8eee" stroke-width="1.25"/><text x="539.5" y="451.5" fill="#222" stroke="#222" stroke-width="0.2" text-anchor="middle">97802</text>
<rect x="525.5" y="492.5" width="33.0" height="8.0" fill="#fff" stroke="#8e8eee" stroke-width="1.25"/><text x="542.0" y="499.5" fill="#222" stroke="#222" stroke-width="0.2" text-anchor="middle">97852A</text>
<rect x="574.5" y="437.5" width="29.0" height="8.0" fill="#fff" stroke="#8e8eee" stroke-width="1.25"/><text x="589.0" y="444.9" fill="#222" stroke="#222" stroke-width="0.2" text-anchor="middle">97606</text>
<rect x="645.5" y="429.5" width="34.0" height="9.0" fill="#fff" stroke="#8e8eee" stroke-width="1.25"/><text x="662.8" y="437.4" fill="#222" stroke="#222" stroke-width="0.2" text-anchor="middle">25336D</text>
<rect x="632.5" y="473.5" width="33.0" height="8.0" fill="#fff" stroke="#8e8eee" stroke-width="1.25"/><text x="649.1" y="480.8" fill="#222" stroke="#222" stroke-width="0.2" text-anchor="middle">29135L</text>
<rect x="333.5" y="457.5" width="35.0" height="8.0" fill="#fff" stroke="#8e8eee" stroke-width="1.25"/><text x="351.4" y="464.6" fill="#222" stroke="#222" stroke-width="0.2" text-anchor="middle">97684C</text>
<rect x="390.5" y="457.5" width="28.0" height="8.0" fill="#fff" stroke="#8e8eee" stroke-width="1.25"/><text x="404.6" y="464.6" fill="#222" stroke="#222" stroke-width="0.2" text-anchor="middle">89087</text>
</g>
<g font-family="Liberation Sans, sans-serif" font-size="9.2px" fill="#222"><text x="314.3" y="23.8">(DOHC-MPI)</text><text x="314.3" y="33.8">(GDI)</text></g>
</svg>
</body></html>
